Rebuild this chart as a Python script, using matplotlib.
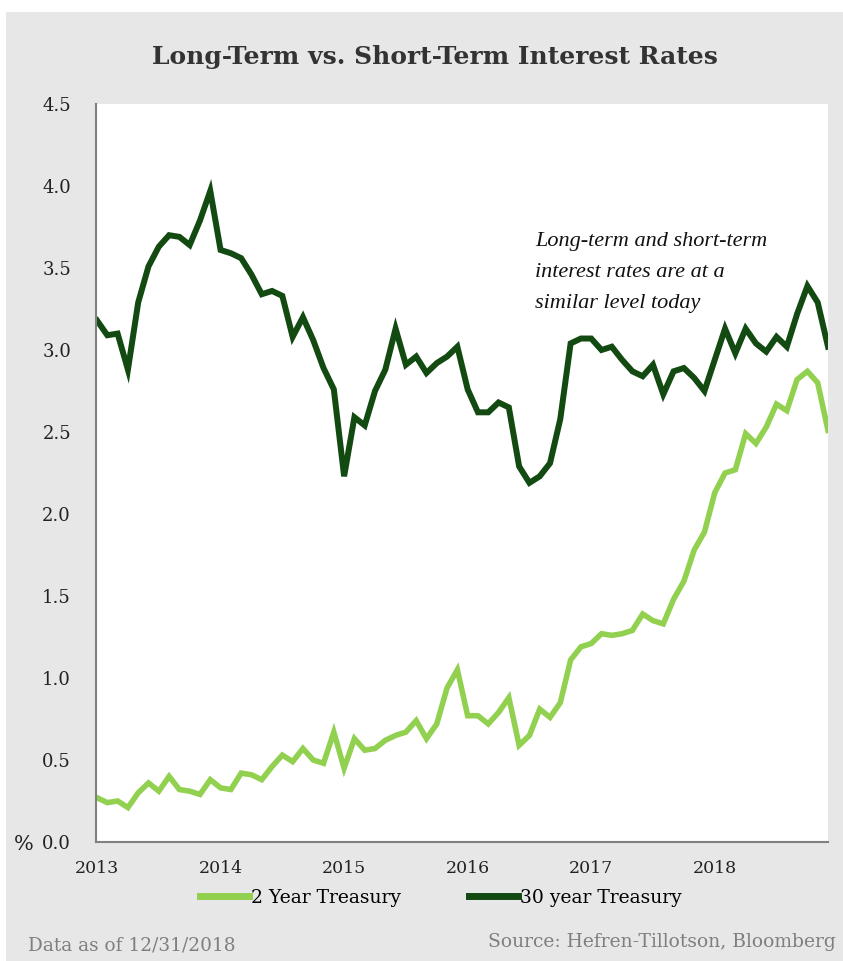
import numpy as np
import matplotlib.pyplot as plt
from matplotlib.patches import Rectangle

# monthly yields, Jan 2013 - Dec 2018 (%)
two_year = [0.27, 0.24, 0.25, 0.21, 0.30, 0.36, 0.31, 0.40, 0.32, 0.31, 0.29, 0.38,
            0.33, 0.32, 0.42, 0.41, 0.38, 0.46, 0.53, 0.49, 0.57, 0.50, 0.48, 0.67,
            0.45, 0.63, 0.56, 0.57, 0.62, 0.65, 0.67, 0.74, 0.63, 0.72, 0.94, 1.05,
            0.77, 0.77, 0.72, 0.79, 0.88, 0.59, 0.65, 0.81, 0.76, 0.85, 1.11, 1.19,
            1.21, 1.27, 1.26, 1.27, 1.29, 1.39, 1.35, 1.33, 1.48, 1.59, 1.78, 1.89,
            2.13, 2.25, 2.27, 2.49, 2.43, 2.53, 2.67, 2.63, 2.82, 2.87, 2.80, 2.51]
thirty_year = [3.18, 3.09, 3.10, 2.88, 3.29, 3.51, 3.63, 3.70, 3.69, 3.64, 3.79, 3.97,
               3.61, 3.59, 3.56, 3.46, 3.34, 3.36, 3.33, 3.08, 3.20, 3.06, 2.89, 2.76,
               2.23, 2.59, 2.54, 2.75, 2.88, 3.13, 2.91, 2.96, 2.86, 2.92, 2.96, 3.02,
               2.76, 2.62, 2.62, 2.68, 2.65, 2.29, 2.19, 2.23, 2.31, 2.58, 3.04, 3.07,
               3.07, 3.00, 3.02, 2.94, 2.87, 2.84, 2.91, 2.73, 2.87, 2.89, 2.83, 2.75,
               2.94, 3.13, 2.98, 3.13, 3.04, 2.99, 3.08, 3.02, 3.22, 3.39, 3.29, 3.02]
years = ['2013', '2014', '2015', '2016', '2017', '2018']
y_ticks = [0.0, 0.5, 1.0, 1.5, 2.0, 2.5, 3.0, 3.5, 4.0, 4.5]

grey_bg = '#e7e7e7'
light = '#92d050'
dark = '#124a12'
serif = ['DejaVu Serif']

fig = plt.figure(figsize=(8.43, 9.61), dpi=100, facecolor='white')
fig.patches.append(Rectangle((6 / 843, 0), 1, 1 - 12 / 961, transform=fig.transFigure,
                             facecolor=grey_bg, edgecolor='none', zorder=-1))

ax = fig.add_axes([96 / 843, 1 - 842 / 961, (828 - 96) / 843, (842 - 104) / 961])
ax.set_facecolor('white')

months = np.arange(len(two_year))
ax.plot(months, two_year, color=light, lw=4.0, label='2 Year Treasury',
        solid_joinstyle='miter')
ax.plot(months, thirty_year, color=dark, lw=4.3, label='30 year Treasury',
        solid_joinstyle='miter')

ax.set_xlim(-0.1, 71)
ax.set_ylim(0, 4.5)
ax.set_xticks(np.arange(len(years)) * 12)
ax.set_xticklabels(years, family=serif, fontsize=12.5, color='#222222')
ax.set_yticks(y_ticks)
ax.set_yticklabels([f'{v:.1f}' for v in y_ticks], family=serif, fontsize=13,
                   color='#222222')
ax.tick_params(axis='x', length=0, pad=13)
ax.tick_params(axis='y', length=0, pad=18)
for s in ['top', 'right']:
    ax.spines[s].set_visible(False)
for s in ['left', 'bottom']:
    ax.spines[s].set_color('#808080')
    ax.spines[s].set_linewidth(1.5)

fig.text(14 / 843, 1 - 845 / 961, '%', family=serif, fontsize=15, color='#222222',
         ha='left', va='center')

fig.text(435 / 843, 1 - 57 / 961, 'Long-Term vs. Short-Term Interest Rates',
         family=serif, fontsize=18, fontweight='bold', color='#333333',
         ha='center', va='center')

fig.text(535 / 843, 1 - 232 / 961, 'Long-term and short-term\ninterest rates are at a\nsimilar level today',
         family=['Liberation Serif'], style='italic', fontsize=16,
         color='#111111', ha='left', va='top', linespacing=1.85)

leg = fig.legend(loc='center', bbox_to_anchor=(441 / 843, 1 - 898 / 961), ncol=2,
                 frameon=False, prop={'family': serif, 'size': 13.5},
                 handlelength=2.6, handletextpad=0.15, columnspacing=3.6)
for line in leg.get_lines():
    line.set_linewidth(5)

fig.text(28 / 843, 1 - 946 / 961, 'Data as of 12/31/2018', family=serif, fontsize=13.3,
         color='#7f7f7f', ha='left', va='center')
fig.text(836 / 843, 1 - 942 / 961, 'Source: Hefren-Tillotson, Bloomberg', family=serif,
         fontsize=13.5, color='#7f7f7f', ha='right', va='center')

fig.savefig('out.png', dpi=100, facecolor=fig.get_facecolor())
